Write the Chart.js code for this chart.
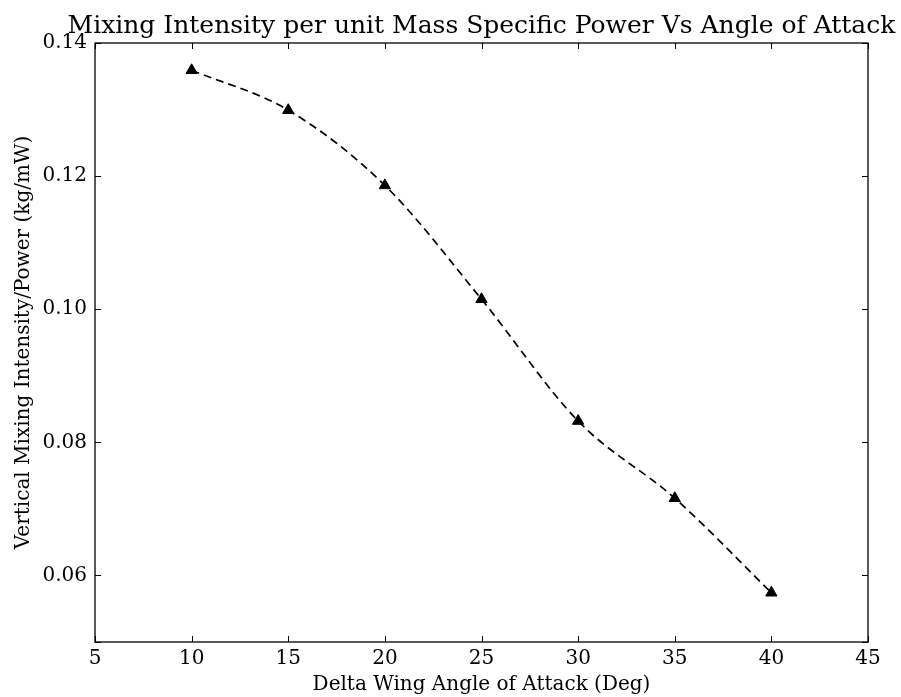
<!DOCTYPE html>
<html>
<head>
<meta charset="utf-8">
<script src="https://cdn.jsdelivr.net/npm/chart.js@4"></script>
<style>
  body { margin: 0; background: #fff; }
  #wrap { width: 901px; height: 697px; }
</style>
</head>
<body>
<div id="wrap"><canvas id="chart" width="901" height="697"></canvas></div>
<script>
// data
const angles = [10, 15, 20, 25, 30, 35, 40];
const mixing = [0.1359, 0.1299, 0.1186, 0.1015, 0.0832, 0.0716, 0.0574];
const xTicks = [5, 10, 15, 20, 25, 30, 35, 40, 45];
const yTicks = [0.05, 0.06, 0.08, 0.10, 0.12, 0.14];

const titleText = "Mixing Intensity per unit Mass Specific Power Vs Angle of Attack";
const xLabel = "Delta Wing Angle of Attack (Deg)";
const yLabel = "Vertical Mixing Intensity/Power (kg/mW)";
const serif = "'DejaVu Serif', serif";

// frame, inward ticks, title and axis labels
const framePlugin = {
  id: "frame",
  afterDraw(chart) {
    const { ctx, chartArea: a, scales } = chart;
    ctx.save();
    ctx.strokeStyle = "#000";
    ctx.lineWidth = 1.3;
    ctx.setLineDash([]);
    ctx.strokeRect(a.left, a.top, a.right - a.left, a.bottom - a.top);
    ctx.lineWidth = 1;
    const len = 6;
    xTicks.forEach((v) => {
      const px = Math.round(scales.x.getPixelForValue(v)) + 0.5;
      ctx.beginPath();
      ctx.moveTo(px, a.bottom); ctx.lineTo(px, a.bottom - len);
      ctx.moveTo(px, a.top); ctx.lineTo(px, a.top + len);
      ctx.stroke();
    });
    yTicks.forEach((v) => {
      const py = Math.round(scales.y.getPixelForValue(v)) + 0.5;
      ctx.beginPath();
      ctx.moveTo(a.left, py); ctx.lineTo(a.left + len, py);
      ctx.moveTo(a.right, py); ctx.lineTo(a.right - len, py);
      ctx.stroke();
    });

    ctx.fillStyle = "#000";
    ctx.textAlign = "center";
    ctx.textBaseline = "alphabetic";
    ctx.font = "25px " + serif;
    ctx.fillText(titleText, (a.left + a.right) / 2, 33);

    ctx.font = "20px " + serif;
    ctx.fillText(xLabel, (a.left + a.right) / 2, 690);

    ctx.translate(29, (a.top + a.bottom) / 2);
    ctx.rotate(-Math.PI / 2);
    ctx.fillText(yLabel, 0, 0);
    ctx.restore();
  },
};

new Chart(document.getElementById("chart"), {
  type: "line",
  data: {
    labels: angles,
    datasets: [
      {
        data: angles.map((a, i) => ({ x: a, y: mixing[i] })),
        borderColor: "#000",
        borderWidth: 1.7,
        borderDash: [8, 5],
        cubicInterpolationMode: "monotone",
        pointStyle: "triangle",
        pointRadius: 6.5,
        pointBackgroundColor: "#000",
        pointBorderColor: "#000",
        pointBorderWidth: 1,
        fill: false,
      },
    ],
  },
  options: {
    responsive: false,
    animation: false,
    layout: { padding: { top: 43, right: 33, left: 0, bottom: 0 } },
    plugins: { legend: { display: false }, title: { display: false }, tooltip: { enabled: false } },
    scales: {
      x: {
        type: "linear",
        min: 5,
        max: 45,
        afterBuildTicks: (s) => { s.ticks = xTicks.map((v) => ({ value: v })); },
        afterFit: (s) => { s.height = 697 - 642; },
        grid: { display: false, drawTicks: false },
        border: { display: false },
        ticks: {
          color: "#000",
          padding: 5,
          maxRotation: 0,
          font: { family: serif, size: 20 },
          callback: (v) => String(v),
        },
      },
      y: {
        type: "linear",
        min: 0.05,
        max: 0.14,
        afterBuildTicks: (s) => { s.ticks = yTicks.map((v) => ({ value: v })); },
        afterFit: (s) => { s.width = 95; },
        grid: { display: false, drawTicks: false },
        border: { display: false },
        ticks: {
          color: "#000",
          padding: 8,
          font: { family: serif, size: 20 },
          callback: (v) => (Math.abs(v - 0.05) < 1e-9 ? "" : v.toFixed(2)),
        },
      },
    },
  },
  plugins: [framePlugin],
});
</script>
</body>
</html>
